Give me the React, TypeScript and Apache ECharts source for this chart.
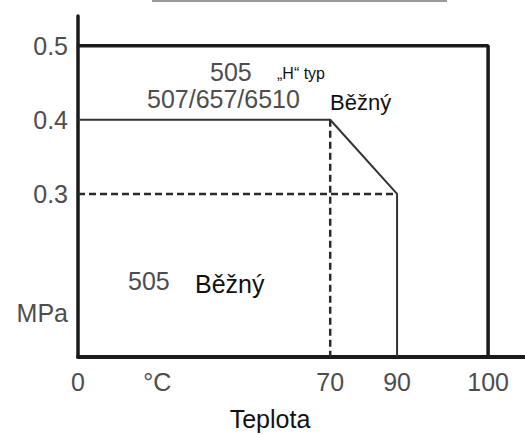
import React, { useEffect, useRef } from "react";
import * as echarts from "echarts";

// ---- data (temperature in °C, pressure in MPa) ----
const xTickTemps = [0, 70, 90, 100];
const xUnitTemp = 22; // where the "°C" unit label sits on the axis
const xUnitText = "°C";
const yTickValues = [0.3, 0.4, 0.5];
const yUnitValue = 0.14; // where the "MPa" unit label sits
const yUnitText = "MPa";
const yMin = 0.08;
const yMax = 0.54;

// overall limit (505 "H" typ)
const limitTemps = [0, 100, 100];
const limitPress = [0.5, 0.5, yMin];
// standard (507/657/6510 Běžný, 505 Běžný)
const stdTemps = [0, 70, 90, 90];
const stdPress = [0.4, 0.4, 0.3, yMin];
// dashed guides
const guideHTemps = [0, 90];
const guideHPress = [0.3, 0.3];
const guideVTemps = [70, 70];
const guideVPress = [0.4, yMin];

// schematic (broken) temperature scale: temperature anchors -> axis units
const tempAnchors = [0, 70, 90, 100];
const axisAnchors = [0, 61.5, 77.8, 100];
const axisMax = 109;

function toAxis(t: number): number {
  for (let i = 0; i < tempAnchors.length - 1; i++) {
    const a = tempAnchors[i], b = tempAnchors[i + 1];
    if (t <= b || i === tempAnchors.length - 2) {
      const r = (t - a) / (b - a);
      return axisAnchors[i] + r * (axisAnchors[i + 1] - axisAnchors[i]);
    }
  }
  return t;
}

const pairs = (ts: number[], ps: number[]) => ts.map((t, i) => [toAxis(t), ps[i]]);

const FONT = "'Liberation Sans', Arial, sans-serif";
const GRAY = "#4d4d4d";

export default function App() {
  const ref = useRef<HTMLDivElement>(null);
  useEffect(() => {
    if (!ref.current) return;
    const chart = echarts.init(ref.current, undefined, { renderer: "svg" });

    const xLabelMap: [number, string][] = [
      ...xTickTemps.map((t) => [toAxis(t), String(t)] as [number, string]),
      [toAxis(xUnitTemp), xUnitText],
    ];
    const yLabelMap: [number, string][] = [
      ...yTickValues.map((v) => [v, v.toFixed(1)] as [number, string]),
      [yUnitValue, yUnitText],
    ];
    const lookup = (m: [number, string][], v: number) => {
      let best = m[0];
      for (const e of m) if (Math.abs(e[0] - v) < Math.abs(best[0] - v)) best = e;
      return best[1];
    };

    const lineSeries = (data: number[][], width: number, color: string, dashed = false) => ({
      type: "line",
      data,
      symbol: "none",
      clip: false,
      silent: true,
      lineStyle: { width, color, type: dashed ? [7, 4] : "solid" },
    });

    chart.setOption({
      animation: false,
      backgroundColor: "#ffffff",
      grid: { left: 78, right: 0, top: 16, bottom: 78 },
      xAxis: {
        type: "value",
        min: 0,
        max: axisMax,
        splitLine: { show: false },
        axisTick: { show: false },
        axisLine: { show: true, lineStyle: { color: "#1a1a1a", width: 4 } },
        axisLabel: {
          customValues: xLabelMap.map((e) => e[0]),
          formatter: (v: number) => lookup(xLabelMap, v),
          color: GRAY,
          fontSize: 25,
          fontFamily: FONT,
          margin: 12,
          hideOverlap: false,
        },
      },
      yAxis: {
        type: "value",
        min: yMin,
        max: yMax,
        splitLine: { show: false },
        axisTick: { show: false },
        axisLine: { show: true, lineStyle: { color: "#1a1a1a", width: 3.5 } },
        axisLabel: {
          customValues: yLabelMap.map((e) => e[0]),
          formatter: (v: number) => lookup(yLabelMap, v),
          color: GRAY,
          fontSize: 25,
          fontFamily: FONT,
          margin: 10,
          hideOverlap: false,
        },
      },
      series: [
        lineSeries(pairs(guideHTemps, guideHPress), 2.5, "#2a2a2a", true),
        lineSeries(pairs(guideVTemps, guideVPress), 2.5, "#2a2a2a", true),
        lineSeries(pairs(stdTemps, stdPress), 2, "#333333"),
        lineSeries(pairs(limitTemps, limitPress), 3.5, "#1a1a1a"),
      ],
      graphic: [
        { type: "line", shape: { x1: 152, y1: 1, x2: 447, y2: 1 }, style: { stroke: "#9a9a9a", lineWidth: 2 } },
        { type: "text", x: 210, y: 72, style: { text: "505", fill: GRAY, font: `25px ${FONT}`, textAlign: "left", textVerticalAlign: "middle" } },
        { type: "text", x: 277, y: 73, style: { text: "„H“ typ", fill: "#111", font: `16px ${FONT}`, textAlign: "left", textVerticalAlign: "middle" } },
        { type: "text", x: 147, y: 98.5, style: { text: "507/657/6510", fill: GRAY, font: `25px ${FONT}`, textAlign: "left", textVerticalAlign: "middle" } },
        { type: "text", x: 330, y: 102.5, style: { text: "Běžný", fill: "#111", font: `22px ${FONT}`, textAlign: "left", textVerticalAlign: "middle" } },
        { type: "text", x: 128, y: 281, style: { text: "505", fill: GRAY, font: `25px ${FONT}`, textAlign: "left", textVerticalAlign: "middle" } },
        { type: "text", x: 195, y: 284, style: { text: "Běžný", fill: "#111", font: `25px ${FONT}`, textAlign: "left", textVerticalAlign: "middle" } },
        { type: "text", x: 270, y: 419, style: { text: "Teplota", fill: "#111", font: `25px ${FONT}`, textAlign: "center", textVerticalAlign: "middle" } },
      ],
    });
    return () => chart.dispose();
  }, []);
  return (
    <div
      ref={ref}
      style={{ position: "fixed", left: 0, top: 0, width: 525, height: 435, background: "#fff" }}
    />
  );
}
